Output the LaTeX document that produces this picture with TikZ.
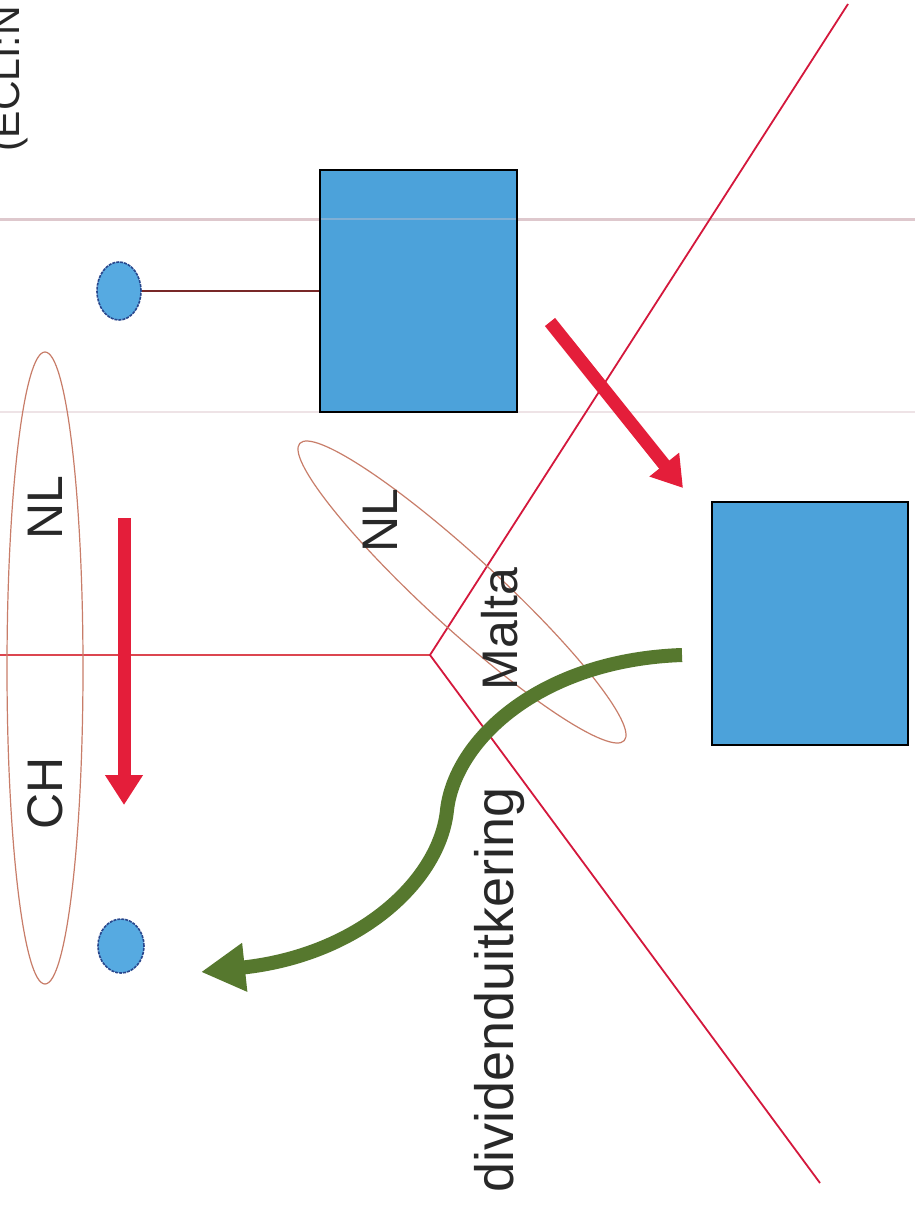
\documentclass[tikz,border=0pt]{standalone}
\usepackage{fontspec}
\setmainfont{Liberation Sans}
\usetikzlibrary{arrows.meta,shapes.geometric}
\definecolor{boxblue}{RGB}{76,162,218}
\definecolor{dotblue}{RGB}{86,170,225}
\definecolor{dotedge}{RGB}{40,70,140}
\definecolor{redline}{RGB}{212,24,60}
\definecolor{hline}{RGB}{220,70,80}
\definecolor{ringcol}{RGB}{200,125,105}
\definecolor{arrred}{RGB}{228,30,58}
\definecolor{arrgreen}{RGB}{86,120,46}
\definecolor{txt}{RGB}{40,40,40}
\definecolor{scanline}{RGB}{222,200,205}
\definecolor{linkcol}{RGB}{120,40,40}
\tikzset{
  bigbox/.style={draw=black, line width=1.6pt, fill=boxblue},
  smalldot/.style={draw=dotedge, line width=1.6pt, dash pattern=on 3pt off 1pt, fill=dotblue, ellipse, inner sep=0pt},
  ring/.style={draw=ringcol, line width=1.2pt},
  border/.style={draw=redline, line width=1.8pt},
  redarrow/.style={draw=arrred, line width=13pt, -{Triangle[width=36pt,length=30pt]}},
  greenarrow/.style={draw=arrgreen, line width=14pt, -{Triangle[width=46pt,length=44pt]}},
  lbl/.style={rotate=90, text=txt, font=\fontsize{50}{60}\selectfont, inner sep=0pt},
}
\begin{document}
\begin{tikzpicture}[x=1pt,y=-1pt]
\useasboundingbox (0,0) rectangle (915,1213);
\fill[white] (0,0) rectangle (915,1213);
% faint scan lines
\draw[scanline, line width=3pt] (0,219) -- (915,219);
\draw[scanline!50, line width=2pt] (0,412) -- (915,412);
% red border lines (Y shape)
\coordinate (v) at (430,655);
\coordinate (hl) at (0,655);
\coordinate (tr) at (848,4);
\coordinate (br) at (820,1183);
\draw[hline, line width=1.5pt] (hl) -- (v);
\draw[border] (tr) -- (v) -- (br);
% ellipses
\draw[ring] (45,668) ellipse [x radius=38, y radius=316];
\draw[ring, rotate around={-42.5:(462,592)}] (462,592) ellipse [x radius=220, y radius=36];
% boxes
\node[bigbox, minimum width=197pt, minimum height=242pt, inner sep=0pt] (topbox) at (418.5,291) {};
\node[bigbox, minimum width=196pt, minimum height=243pt, inner sep=0pt] (rightbox) at (810,623.5) {};
\draw[scanline!60!boxblue, line width=2pt, opacity=0.6] (321,219) -- (516,219);
% small dots
\node[smalldot, minimum width=44pt, minimum height=58pt] (dot1) at (119,291) {};
\node[smalldot, minimum width=46pt, minimum height=54pt] (dot2) at (121,946) {};
\draw[draw=linkcol, line width=2pt] (dot1.east) -- (topbox.west |- dot1.east);
% arrows
\coordinate (a1s) at (124,518);
\coordinate (a1e) at (124,805);
\draw[redarrow] (a1s) -- (a1e);
\coordinate (a2s) at (550,322);
\coordinate (a2e) at (683,488);
\draw[redarrow] (a2s) -- (a2e);
\coordinate (gs) at (682,655);
\coordinate (ge) at (201,972);
\draw[greenarrow] (gs) .. controls (540,660) and (455,740) .. (447,810) .. controls (440,880) and (360,955) .. (ge);
% labels
\node[lbl] (nl1) at (45,508) {NL};
\node[lbl] (ch) at (45,793) {CH};
\node[lbl] (nl2) at (380,521) {NL};
\node[lbl] (malta) at (500,629) {Malta};
\node[lbl, font=\fontsize{54}{60}\selectfont] (div) at (500,990) {dividenduitkering};
\node[lbl, font=\fontsize{41}{50}\selectfont, anchor=south west] (ecli) at (28,152) {(ECLI:N};
\end{tikzpicture}
\end{document}
